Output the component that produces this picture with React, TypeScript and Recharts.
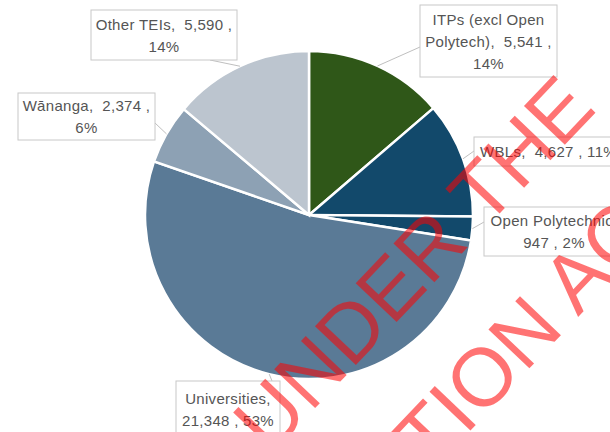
import React from 'react';
import { PieChart, Pie, Cell } from 'recharts';

const categories = ['ITPs (excl Open Polytech)', 'WBLs', 'Open Polytechnic', 'Universities', 'Wānanga', 'Other TEIs'];
const values = [5541, 4627, 947, 21348, 2374, 5590];
const percentLabels = ['14%', '11%', '2%', '53%', '6%', '14%'];
const labelLines = [
  ['ITPs (excl Open', 'Polytech),\u00a0 5,541 ,', '14%'],
  ['WBLs,\u00a0 4,627 , 11%'],
  ['Open Polytechnic,', '947 , 2%'],
  ['Universities,', '21,348 , 53%'],
  ['Wānanga,\u00a0 2,374 ,', '6%'],
  ['Other TEIs,\u00a0 5,590 ,', '14%'],
];

const colors = ['#2f5718', '#12496b', '#12496b', '#5a7a96', '#8da1b4', '#bcc5cf'];

// callout boxes, relative to pie centre: left, top, width, height, attach point inside box
const boxes = [
  { x: 111, y: -210, w: 137, h: 72, ax: 0, ay: 42 },
  { x: 165, y: -78, w: 149, h: 29, ax: 0, ay: 14 },
  { x: 175, y: -8, w: 140, h: 49, ax: 0, ay: 15 },
  { x: -133, y: 166, w: 104, h: 56, ax: 96, ay: 0 },
  { x: -291, y: -122, w: 137, h: 47, ax: 137, ay: 30 },
  { x: -218, y: -205, w: 146, h: 50, ax: 119, ay: 50 },
];

const data = categories.map((name, i) => ({ name, value: values[i], pct: percentLabels[i] }));

const RAD = Math.PI / 180;

const renderLabel = (props: any) => {
  const { cx, cy, midAngle, outerRadius, index } = props;
  const b = boxes[index];
  const px = cx + outerRadius * Math.cos(-midAngle * RAD);
  const py = cy + outerRadius * Math.sin(-midAngle * RAD);
  const bx = cx + b.x;
  const by = cy + b.y;
  const lines = labelLines[index];
  const lineH = 22;
  const startY = by + b.h / 2 - ((lines.length - 1) * lineH) / 2;
  return (
    <g key={`lbl-${index}`}>
      <line x1={px} y1={py} x2={bx + b.ax} y2={by + b.ay} stroke="#bfbfbf" strokeWidth={1} />
      <rect x={bx} y={by} width={b.w} height={b.h} fill="#ffffff" stroke="#c8c8c8" strokeWidth={1} />
      {lines.map((t, j) => (
        <text
          key={j}
          x={bx + b.w / 2}
          y={startY + j * lineH}
          textAnchor="middle"
          dominantBaseline="central"
          fill="#555555"
          fontSize={15}
          letterSpacing={0.3}
          fontFamily="'Liberation Sans', Arial, sans-serif"
        >
          {t}
        </text>
      ))}
    </g>
  );
};

const Watermark = () => (
  <svg width={610} height={432} style={{ position: 'absolute', left: 0, top: 0, pointerEvents: 'none' }}>
    <g fill="#ff0000" fillOpacity={0.55} fontFamily="'Liberation Sans', Arial, sans-serif" fontSize={82}>
      <text transform="translate(598,110) rotate(-46.5)" textAnchor="end">RELEASED UNDER THE</text>
      <text transform="translate(691,198) rotate(-46.5)" textAnchor="end">OFFICIAL INFORMATION ACT</text>
    </g>
  </svg>
);

export default function App() {
  return (
    <div style={{ position: 'absolute', left: 0, top: 0, width: 610, height: 432, overflow: 'hidden', background: '#fff' }}>
      <PieChart width={610} height={432} margin={{ top: 0, right: 0, bottom: 0, left: 0 }}>
        <Pie
          data={data}
          dataKey="value"
          nameKey="name"
          cx={309}
          cy={215}
          outerRadius={164}
          startAngle={90}
          endAngle={-270}
          stroke="#ffffff"
          strokeWidth={2.5}
          label={renderLabel}
          labelLine={false}
          isAnimationActive={false}
        >
          {data.map((d, i) => (
            <Cell key={d.name} fill={colors[i]} />
          ))}
        </Pie>
      </PieChart>
      <Watermark />
    </div>
  );
}
